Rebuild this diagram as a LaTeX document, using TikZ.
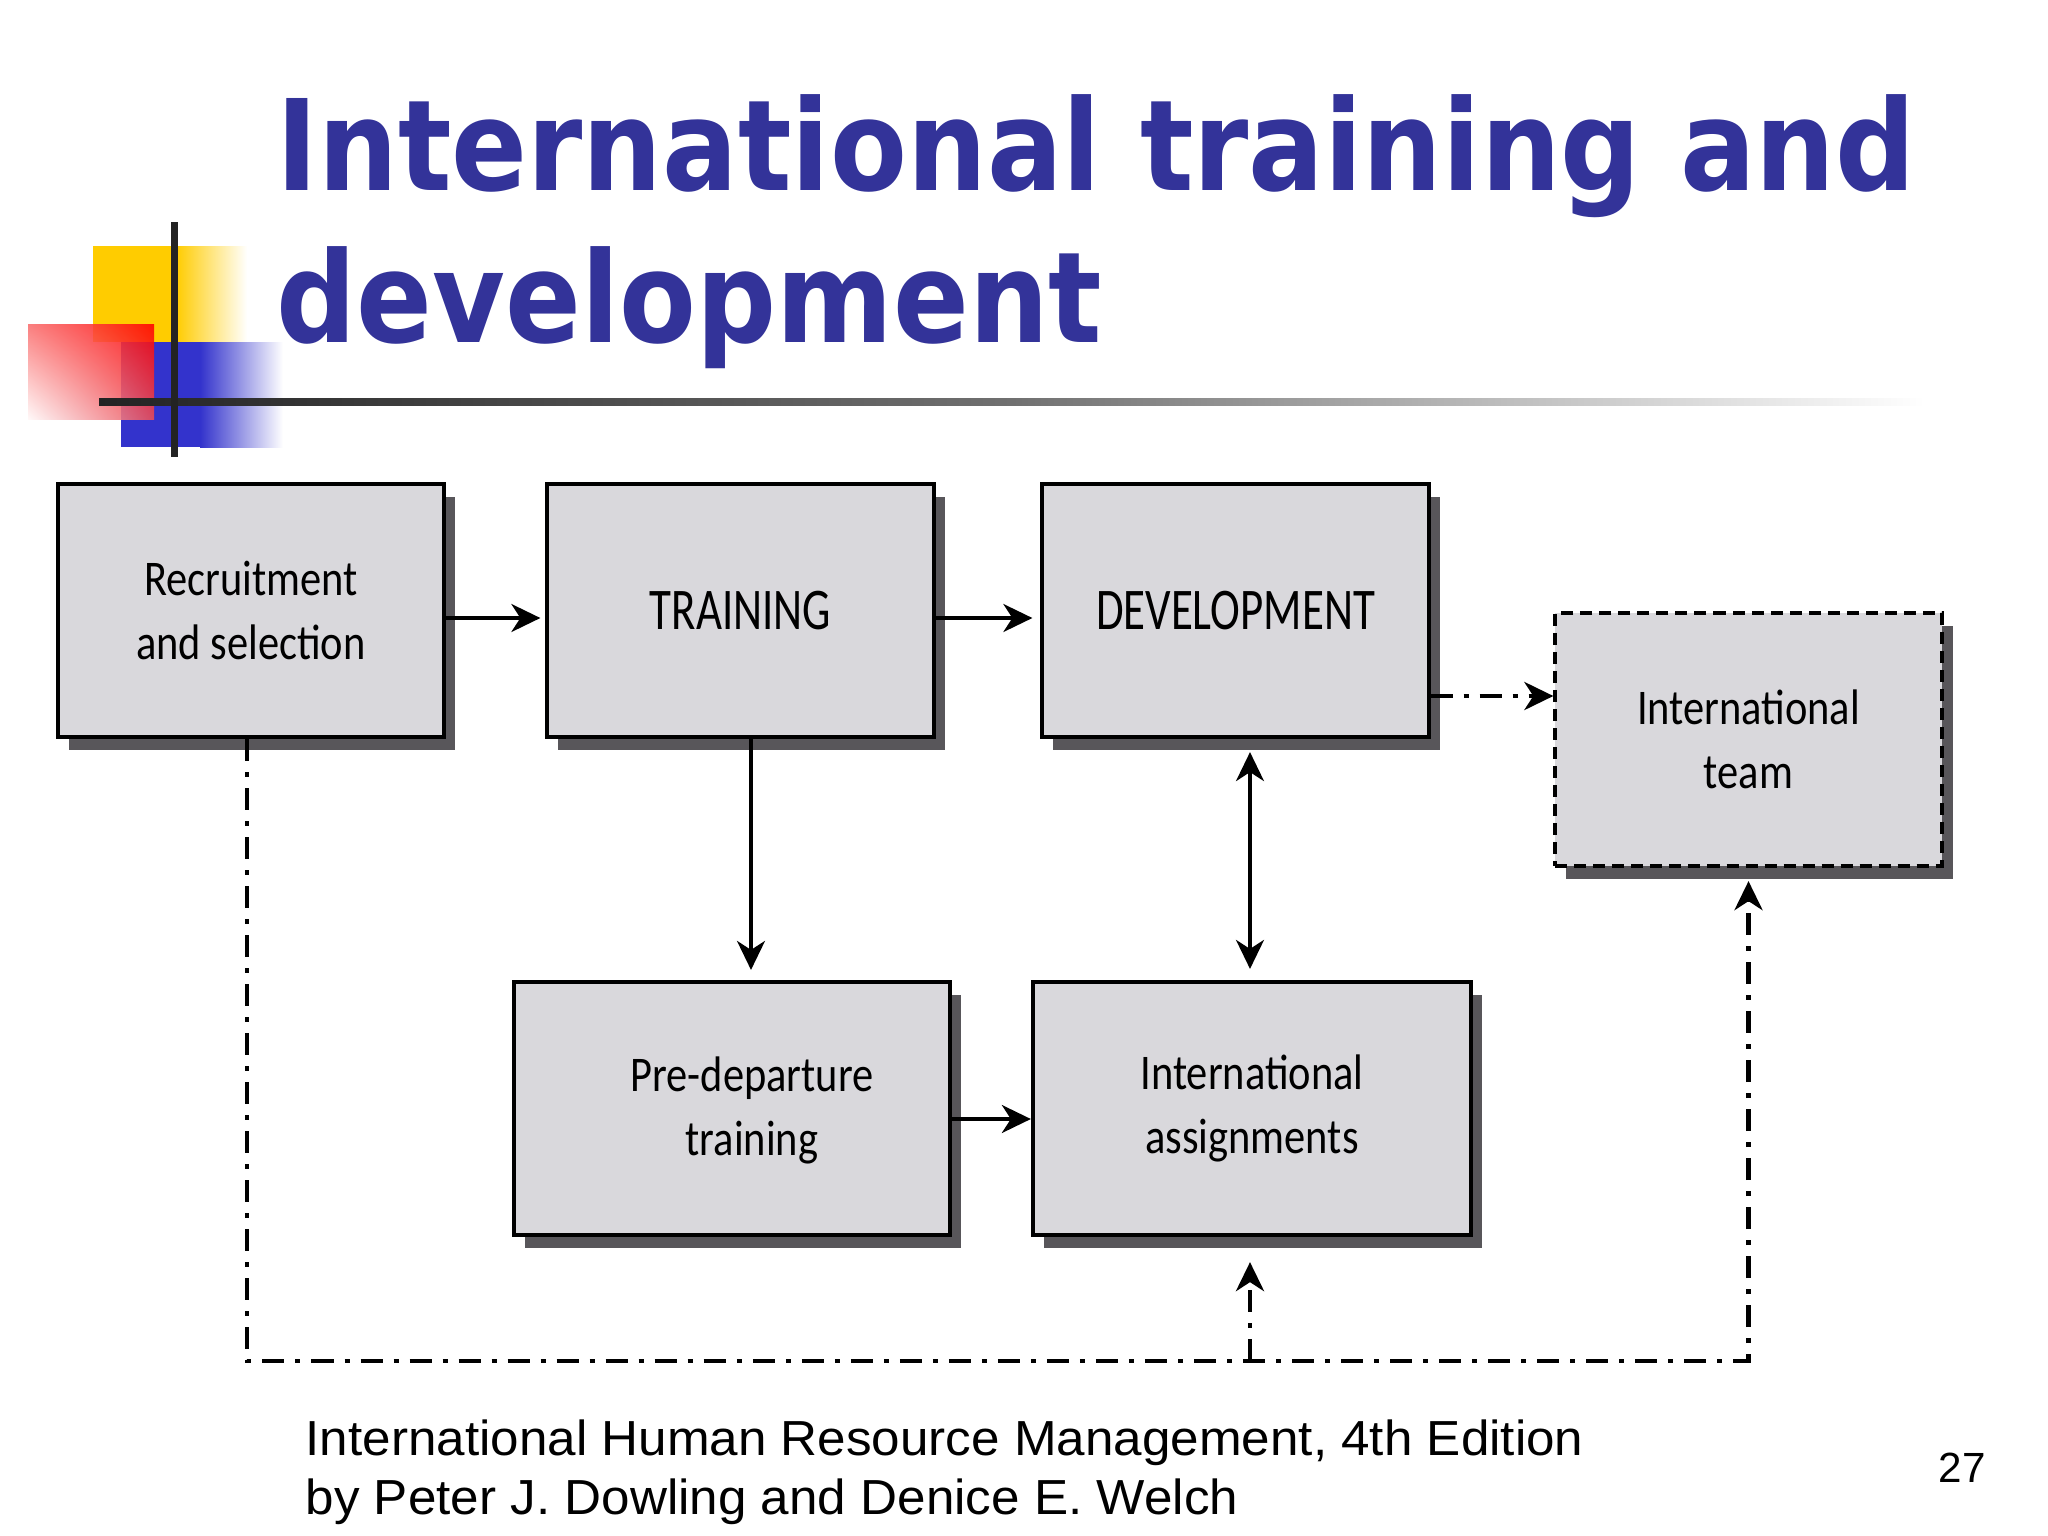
\documentclass[tikz,border=0pt]{standalone}
\usepackage{fontspec}
\usepackage{graphicx}
\usetikzlibrary{arrows.meta,calc,shadows,shadings}
\newfontfamily\titlefont{DejaVu Sans}
\newfontfamily\boxfont[FakeStretch=0.85]{Carlito}
\newfontfamily\capsfont[FakeStretch=0.76]{Carlito}
\newfontfamily\footfont{Liberation Sans}
\definecolor{titleblue}{RGB}{51,51,153}
\definecolor{boxfill}{RGB}{217,216,220}
\definecolor{shadowgray}{RGB}{88,86,90}
\definecolor{logoyellow}{RGB}{255,204,0}
\definecolor{logoblue}{RGB}{51,51,204}
\definecolor{logored}{RGB}{255,0,0}
\definecolor{redUL}{RGB}{250,110,110}
\definecolor{redLL}{RGB}{255,248,248}
\definecolor{redLR}{RGB}{235,75,85}
\definecolor{linedark}{RGB}{35,35,35}
\begin{document}
\begin{tikzpicture}[x=0.01cm,y=-0.01cm,
  stagebox/.style={draw=black, line width=1.15pt, fill=boxfill,
    minimum width=3.86cm, minimum height=2.53cm, align=center, inner sep=0pt,
    font=\boxfont\fontsize{14.2pt}{18.2pt}\selectfont,
    drop shadow={shadow xshift=0.11cm, shadow yshift=-0.13cm, fill=shadowgray, opacity=1}},
  capsbox/.style={stagebox, font=\capsfont\fontsize{16.8pt}{20pt}\selectfont},
  dashedborder/.style={dash pattern=on 0.12cm off 0.07cm},
  boxtext/.style={inner sep=0pt, align=center, font=\boxfont\fontsize{14.2pt}{18.2pt}\selectfont},
  tip/.tip={Stealth[length=0.29cm, width=0.28cm, inset=0.09cm]},
  arr/.style={line width=0.9pt, -tip},
  dblarr/.style={line width=0.9pt, tip-tip},
  ddline/.style={line width=1.3pt, dash pattern=on 0.22cm off 0.11cm on 0.05cm off 0.11cm, -tip},
  titletext/.style={anchor=base west, inner sep=0pt, text=titleblue},
  foottext/.style={anchor=base west, inner sep=0pt, font=\footfont\fontsize{14pt}{16pt}\selectfont}
]
\fill[white] (0,0) rectangle (2048,1536);
\useasboundingbox (0,0) rectangle (2048,1536);

% logo
\fill[logoyellow] (93,246) rectangle (176,342);
\shade[left color=logoyellow, right color=white] (176,246) rectangle (247,342);
\fill[logoblue] (121,342) rectangle (200,447);
\shade[left color=logoblue, right color=white] (200,342) rectangle (283,447);
\shade[upper left=redUL, upper right=logored, lower left=redLL, lower right=redLR, fill opacity=0.88] (28,324) rectangle (154,419);
\shade[left color=linedark, right color=white, middle color=linedark!65!white] (99,398.5) rectangle (1925,405.5);
\fill[linedark] (170.5,222) rectangle (177.5,457);

% title
\node[titletext] (title1) at (276,190) {\resizebox{16.38cm}{\height}{\titlefont\bfseries\fontsize{35.9pt}{40pt}\selectfont International training and}};
\node[titletext] (title2) at (276,342) {\resizebox{8.25cm}{\height}{\titlefont\bfseries\fontsize{35.9pt}{40pt}\selectfont development}};

% boxes
\node[stagebox] (rec) at (251,610.5) {Recruitment\\and selection};
\node[capsbox] (train) at (740.5,610.5) {TRAINING};
\node[capsbox] (dev) at (1235.5,610.5) {DEVELOPMENT};
\node[stagebox, dashedborder] (team) at (1748.5,739.5) {International\\team};
\node[stagebox, minimum width=4.36cm] (predep) at (732,1108.5) {};
\node[boxtext] (predeptext) at (752,1110) {Pre-departure\\training};
\node[stagebox, minimum width=4.38cm] (assign) at (1252,1108.5) {International\\assignments};

% connectors
\draw[arr] ($(rec.east)+(0,7.5)$) -- ($(train.west)+(-5,7.5)$);
\draw[arr] ($(train.east)+(0,7.5)$) -- ($(dev.west)+(-8,7.5)$);
\coordinate (devout) at ($(dev.east)+(0,85.5)$);
\draw[ddline] (devout) -- (devout -| team.west);
\coordinate (trainout) at ($(train.south)+(10.5,0)$);
\draw[arr] (trainout) -- ($(trainout |- predep.north)+(0,-10)$);
\draw[dblarr] ($(assign.north)+(-2,-11)$) -- ($(assign.north |- dev.south)+(-2,13)$);
\draw[arr] ($(predep.east)+(0,10.5)$) -- ($(assign.west)+(0,10.5)$);
\coordinate (loopy) at (0,1361);
\draw[ddline] ($(rec.south)+(-4,0)$) |- (team.south |- loopy) -- ($(team.south)+(0,13)$);
\draw[ddline] ($(assign.south |- loopy)+(-2,0)$) -- ($(assign.south)+(-2,25)$);

% footer
\node[foottext] (foot1) at (305,1455) {\scalebox{1.04}[1]{International Human Resource Management, 4th Edition}};
\node[foottext] (foot2) at (305,1514) {\scalebox{1.04}[1]{by Peter J. Dowling and Denice E. Welch}};
\node[anchor=base, inner sep=0pt, font=\footfont\fontsize{12pt}{14pt}\selectfont] (pagenum) at (1962,1482) {27};
\end{tikzpicture}
\end{document}
